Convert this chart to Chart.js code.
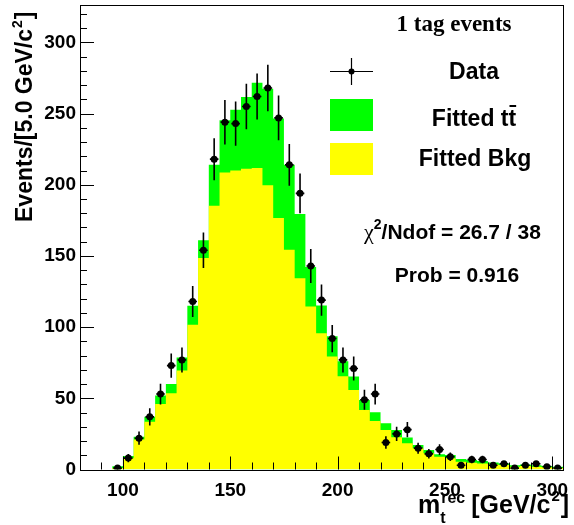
<!DOCTYPE html>
<html>
<head>
<meta charset="utf-8">
<script src="https://cdn.jsdelivr.net/npm/chart.js@4.4.0/dist/chart.umd.min.js"></script>
<style>
html, body { margin: 0; padding: 0; background: #fff; }
</style>
</head>
<body>
<canvas id="grafico" width="574" height="525"></canvas>
<script>
// borde inferior de cada bin (GeV/c2), ancho 5
let binLow = [95,100,105,110,115,120,125,130,135,140,145,150,155,160,165,170,175,180,185,190,
              195,200,205,210,215,220,225,230,235,240,245,250,255,260,265,270,275,280,285,290,295,300];
let binWidth = 5;

// eventos observados
let datos = [1,8,22,37,53,73,77,118,154,218,244,243,255,262,268,247,214,194,143,119,
             92,77,71,49,53,19,25,28,15,11,14,9,3,7,7,3,4,1,3,4,2,1];

// ajuste total (tt + fondo) y solo fondo
let totalFit = [2.2,9.5,23,37,52,60,78.6,115,161,214,245.3,252.8,261.7,271.6,267.4,246.5,214,179.5,142.2,115.2,
                93.6,76,65.3,48.9,40.2,32.5,27.8,22.4,17.2,13.7,10.7,10.2,7.4,6.7,6,5,4.3,2.9,3.6,2.9,2.5,2];
let fondoFit = [1,7.9,21,33.6,46,53.6,69.5,101.6,148.5,185.3,208.7,210.1,211.3,211.8,199.6,176.6,154.4,134.4,114.5,95.8,
                79.3,65.5,55.9,41.8,34.1,27.8,22.6,18.4,14.9,11.4,9,7.9,5.5,4.8,4.3,3.6,3.2,2,2.5,2,1.5,1];

let xTicks = [100, 150, 200, 250, 300];
let yTicks = [0, 50, 100, 150, 200, 250, 300];

const VERDE = "#00ff00";
const AMARILLO = "#ffff00";
const SANS = "'Liberation Sans', Arial, Helvetica, sans-serif";
const SERIF = "'Liberation Serif', 'Times New Roman', serif";

// puntos del histograma en escalera (bordes izquierdos + borde final)
function escalera(vals) {
    let pts = binLow.map((x, i) => ({ x: x, y: vals[i] }));
    let n = binLow.length - 1;
    pts.push({ x: binLow[n] + binWidth, y: vals[n] });
    return pts;
}

let puntosDatos = binLow.map((x, i) => ({ x: x + binWidth / 2, y: datos[i] }));

function sinPadding(axis) {
    axis.paddingLeft = 0;
    axis.paddingRight = 0;
    axis.paddingTop = 0;
    axis.paddingBottom = 0;
}

// ticks, marco, barras de error y textos al estilo ROOT
const estiloRoot = {
    id: "estiloRoot",
    afterDatasetsDraw(chart) {
        const ctx = chart.ctx;
        const a = chart.chartArea;
        const sx = chart.scales.x;
        const sy = chart.scales.y;

        // barras de error de los datos
        ctx.save();
        ctx.strokeStyle = "#000";
        ctx.lineWidth = 1.6;
        datos.forEach((v, i) => {
            let xc = sx.getPixelForValue(binLow[i] + binWidth / 2);
            let yc = sy.getPixelForValue(v);
            let err = Math.sqrt(v);
            ctx.beginPath();
            ctx.moveTo(xc, sy.getPixelForValue(v - err));
            ctx.lineTo(xc, sy.getPixelForValue(v + err));
            ctx.moveTo(sx.getPixelForValue(binLow[i] + 0.5), yc);
            ctx.lineTo(sx.getPixelForValue(binLow[i] + binWidth - 0.5), yc);
            ctx.stroke();
        });
        ctx.restore();

        // ticks hacia dentro
        ctx.save();
        ctx.strokeStyle = "#000";
        ctx.lineWidth = 1;
        ctx.beginPath();
        for (let v = 0; v <= 320; v += 10) {
            let y = Math.round(sy.getPixelForValue(v)) + 0.5;
            let len = (v % 50 === 0) ? 14 : 7;
            ctx.moveTo(a.left, y);
            ctx.lineTo(a.left + len, y);
        }
        for (let v = 90; v <= 300; v += 10) {
            let x = Math.round(sx.getPixelForValue(v)) + 0.5;
            let len = (v % 50 === 0) ? 13 : 7;
            ctx.moveTo(x, a.bottom);
            ctx.lineTo(x, a.bottom - len);
        }
        ctx.stroke();
        // marco
        ctx.strokeRect(Math.round(a.left) + 0.5, Math.round(a.top) + 0.5,
                       Math.round(a.right - a.left), Math.round(a.bottom - a.top));
        ctx.restore();

        ctx.save();
        ctx.fillStyle = "#000";

        // titulo eje Y (rotado)
        ctx.save();
        ctx.translate(32, 222);
        ctx.rotate(-Math.PI / 2);
        ctx.textBaseline = "alphabetic";
        ctx.textAlign = "left";
        ctx.font = "bold 23px " + SANS;
        let t1 = "Events/[5.0 GeV/c";
        ctx.fillText(t1, 0, 0);
        let w1 = ctx.measureText(t1).width;
        ctx.font = "bold 14px " + SANS;
        ctx.fillText("2", w1 + 1, -10);
        let w2 = ctx.measureText("2").width;
        ctx.font = "bold 23px " + SANS;
        ctx.fillText("]", w1 + w2 + 2, 0);
        ctx.restore();

        // titulo eje X
        ctx.textBaseline = "alphabetic";
        ctx.textAlign = "left";
        let x0 = 418;
        ctx.font = "bold 25px " + SANS;
        ctx.fillText("m", x0, 513);
        let wm = ctx.measureText("m").width;
        ctx.font = "bold 16px " + SANS;
        ctx.fillText("rec", x0 + wm + 1, 503);
        let wr = ctx.measureText("rec").width;
        ctx.fillText("t", x0 + wm + 0, 523);
        let xb = x0 + wm + wr + 7;
        ctx.font = "bold 25px " + SANS;
        ctx.fillText("[GeV/c", xb, 513);
        let wg = ctx.measureText("[GeV/c").width;
        ctx.font = "bold 15px " + SANS;
        ctx.fillText("2", xb + wg + 1, 501);
        let w22 = ctx.measureText("2").width;
        ctx.font = "bold 25px " + SANS;
        ctx.fillText("]", xb + wg + w22 + 2, 513);

        // encabezado
        ctx.textAlign = "center";
        ctx.textBaseline = "middle";
        ctx.font = "bold 23px " + SERIF;
        ctx.fillText("1 tag events", 454, 25);

        // leyenda
        ctx.strokeStyle = "#000";
        ctx.lineWidth = 1.2;
        ctx.beginPath();
        ctx.moveTo(330, 71.5); ctx.lineTo(373, 71.5);
        ctx.moveTo(351.5, 58); ctx.lineTo(351.5, 85);
        ctx.stroke();
        ctx.beginPath();
        ctx.arc(351.5, 71.5, 3, 0, Math.PI * 2);
        ctx.fill();
        ctx.fillStyle = VERDE;
        ctx.fillRect(330, 99, 43, 32);
        ctx.fillStyle = AMARILLO;
        ctx.fillRect(330, 143, 43, 32);

        ctx.fillStyle = "#000";
        ctx.font = "bold 23px " + SANS;
        ctx.fillText("Data", 474, 73);
        ctx.fillText("Fitted Bkg", 475, 160);
        // "Fitted tt" con barra sobre la segunda t
        ctx.textAlign = "left";
        let s1 = "Fitted t";
        let wt = ctx.measureText(s1 + "t").width;
        let xl = 474 - wt / 2;
        ctx.fillText(s1 + "t", xl, 120);
        let ws1 = ctx.measureText(s1).width;
        let wlast = ctx.measureText("t").width;
        ctx.fillRect(xl + ws1 + 1, 105, wlast - 1, 2);

        // chi2 y probabilidad
        ctx.textBaseline = "alphabetic";
        let xc2 = 364;
        ctx.font = "22px " + SERIF;
        ctx.fillText("\u03c7", xc2, 239);
        let wchi = ctx.measureText("\u03c7").width;
        ctx.font = "bold 14px " + SANS;
        ctx.fillText("2", xc2 + wchi, 229);
        let w2b = ctx.measureText("2").width;
        ctx.font = "bold 21px " + SANS;
        ctx.fillText("/Ndof = 26.7 / 38", xc2 + wchi + w2b, 239);
        ctx.textAlign = "center";
        ctx.fillText("Prob = 0.916", 457, 282);
        ctx.restore();
    }
};

let ctx = document.getElementById("grafico").getContext("2d");

let grafico = new Chart(ctx, {
    type: "line",
    data: {
        datasets: [
            {
                label: "Fitted tt",
                data: escalera(totalFit),
                stepped: true,
                fill: "origin",
                backgroundColor: VERDE,
                borderColor: "rgba(0,0,0,0)",
                borderWidth: 0,
                pointRadius: 0,
                order: 3
            },
            {
                label: "Fitted Bkg",
                data: escalera(fondoFit),
                stepped: true,
                fill: "origin",
                backgroundColor: AMARILLO,
                borderColor: "rgba(0,0,0,0)",
                borderWidth: 0,
                pointRadius: 0,
                order: 2
            },
            {
                type: "scatter",
                label: "Data",
                data: puntosDatos,
                pointRadius: 3.5,
                pointBackgroundColor: "#000",
                pointBorderColor: "#000",
                pointBorderWidth: 0,
                showLine: false,
                order: 1
            }
        ]
    },
    options: {
        responsive: false,
        animation: false,
        devicePixelRatio: 1,
        layout: { padding: { top: 5, right: 11, left: 0, bottom: 0 } },
        plugins: {
            legend: { display: false },
            tooltip: { enabled: false }
        },
        scales: {
            x: {
                type: "linear",
                min: 80,
                max: 305,
                grid: { display: false, drawTicks: false },
                border: { display: false },
                afterBuildTicks: function (axis) {
                    axis.ticks = xTicks.map(v => ({ value: v }));
                },
                afterFit: function (axis) { axis.height = 55.5; sinPadding(axis); },
                ticks: {
                    autoSkip: false,
                    maxRotation: 0,
                    padding: 10,
                    color: "#000",
                    font: { family: SANS, size: 19, weight: "bold" }
                }
            },
            y: {
                type: "linear",
                min: 0,
                max: 326.3,
                grid: { display: false, drawTicks: false },
                border: { display: false },
                afterBuildTicks: function (axis) {
                    axis.ticks = yTicks.map(v => ({ value: v }));
                },
                afterFit: function (axis) { axis.width = 80; sinPadding(axis); },
                ticks: {
                    autoSkip: false,
                    padding: 4,
                    color: "#000",
                    font: { family: SANS, size: 19, weight: "bold" }
                }
            }
        }
    },
    plugins: [estiloRoot]
});
</script>
</body>
</html>
